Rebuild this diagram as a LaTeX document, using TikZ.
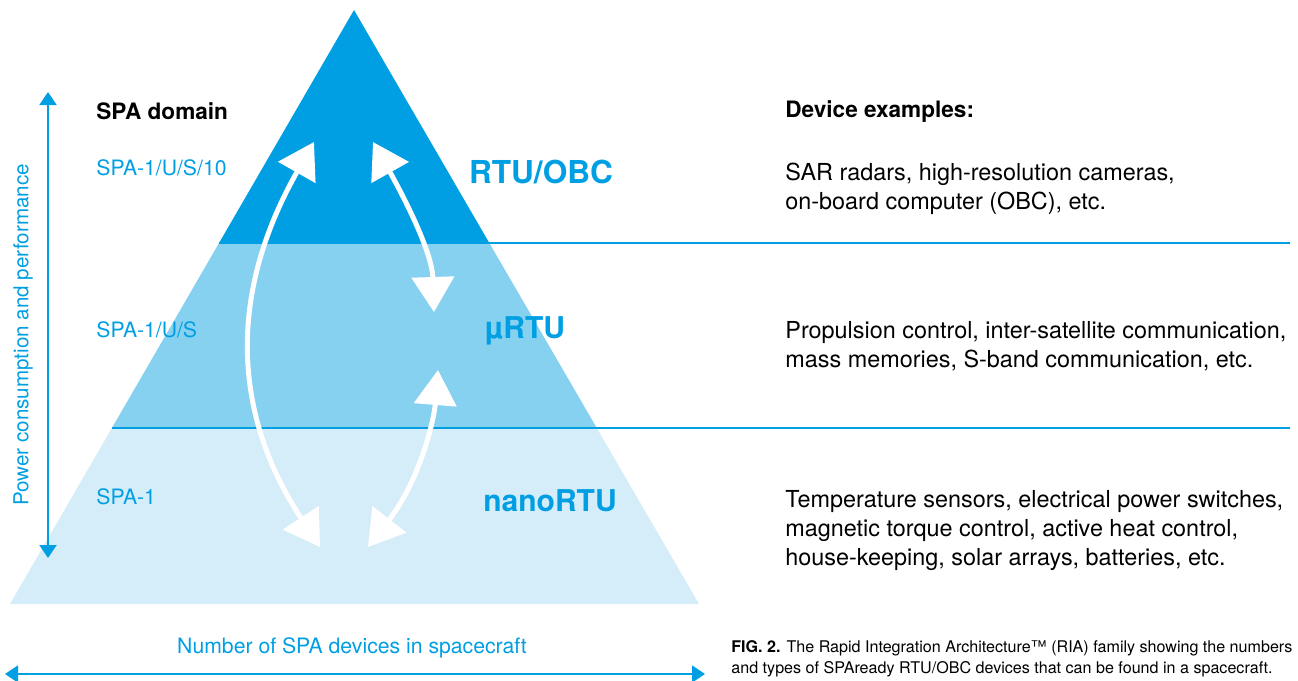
\documentclass[tikz,border=0pt]{standalone}
\usepackage{fontspec}
\setmainfont{TeX Gyre Heros}
\usetikzlibrary{arrows.meta,calc}
\definecolor{spablue}{RGB}{0,159,227}
\definecolor{spamid}{RGB}{134,208,240}
\definecolor{spapale}{RGB}{213,236,249}

\begin{document}
\begin{tikzpicture}[x=0.5pt,y=-0.5pt,
  every node/.style={inner sep=0pt,anchor=west,align=left,font=\fontsize{11.7}{14.5}\selectfont},
  head/.style={font=\fontsize{11.3}{14}\selectfont\bfseries},
  spalabel/.style={text=spablue,font=\fontsize{10.6}{13}\selectfont},
  tier/.style={anchor=center,text=spablue,font=\fontsize{15}{18}\selectfont\bfseries},
  axis/.style={spablue,line width=1pt,{Triangle[length=6.5pt,width=8.5pt]}-{Triangle[length=6.5pt,width=8.5pt]}},
  link/.style={white,line width=2.5pt,{Triangle[length=17.5pt,width=21pt]}-{Triangle[length=17.5pt,width=21pt]}},
  sepline/.style={spablue,line width=0.75pt}]
  \useasboundingbox (0,0) rectangle (1298,681);
  \coordinate (apex) at (354,10);
  \coordinate (baseL) at (10,604);
  \coordinate (baseR) at (699,604);
  \coordinate (lineEnd) at (1290,0);
  \begin{scope}
    \clip (baseL) -- (baseR) -- (apex) -- cycle;
    \fill[spapale] (0,428) rectangle (720,610);
    \fill[spamid] (0,243) rectangle (720,428);
    \fill[spablue] (0,0) rectangle (720,243);
  \end{scope}
  \coordinate (sepTop) at ($(baseL)!{361/594}!(apex)$);
  \coordinate (sepLow) at ($(baseL)!{176/594}!(apex)$);
  \draw[sepline] (sepTop) -- (sepTop -| lineEnd);
  \draw[sepline] (sepLow) -- (sepLow -| lineEnd);

  \coordinate (loopTop) at (314,142);
  \coordinate (loopBot) at (320,547);
  \coordinate (upTop) at (373,142);
  \coordinate (upBot) at (434,312);
  \coordinate (lowTop) at (438,370);
  \coordinate (lowBot) at (368,547);
  \draw[link] (loopTop) .. controls (230,290) and (230,410) .. (loopBot);
  \draw[link] (upTop) .. controls (400,190) and (432,250) .. (upBot);
  \draw[link] (lowTop) .. controls (434,420) and (420,480) .. (lowBot);

  \node[head] (domainHead) at (96,111) {SPA domain};
  \node[spalabel] (domTop) at (96,168) {SPA-1/U/S/10};
  \node[spalabel] (domMid) at (96,330) {SPA-1/U/S};
  \node[spalabel] (domLow) at (96,497) {SPA-1};
  \node[tier,font=\fontsize{15.8}{18}\selectfont\bfseries] (rtu) at (541,172) {RTU/OBC};
  \node[tier] (micro) at (525,331) {µRTU};
  \node[tier] (nano) at (550,501) {nanoRTU};

  \node[head] (devHead) at (785,112) {Device examples:};
  \node (devTop) at (785,189) {SAR radars, high-resolution cameras,\\on-board computer (OBC), etc.};
  \node (devMid) at (785,346) {Propulsion control, inter-satellite communication,\\mass memories, S-band communication, etc.};
  \node (devLow) at (785,531) {Temperature sensors, electrical power switches,\\magnetic torque control, active heat control,\\house-keeping, solar arrays, batteries, etc.};

  \coordinate (powerHi) at (48,92);
  \coordinate (powerLo) at (48,558);
  \draw[axis] (powerLo) -- (powerHi);
  \node[rotate=90,anchor=center,spalabel,font=\fontsize{10.3}{13}\selectfont] (powerLabel) at (23,335) {Power consumption and performance};
  \coordinate (countL) at (5,674);
  \coordinate (countR) at (705,674);
  \draw[axis] (countL) -- (countR);
  \node[anchor=center,spalabel] (countLabel) at (352,648) {Number of SPA devices in spacecraft};

  \node[font=\fontsize{8.05}{10.5}\selectfont] (caption) at (731,659) {\textbf{FIG. 2.} The Rapid Integration Architecture™ (RIA) family showing the numbers\\and types of SPAready RTU/OBC devices that can be found in a spacecraft.};
\end{tikzpicture}
\end{document}
